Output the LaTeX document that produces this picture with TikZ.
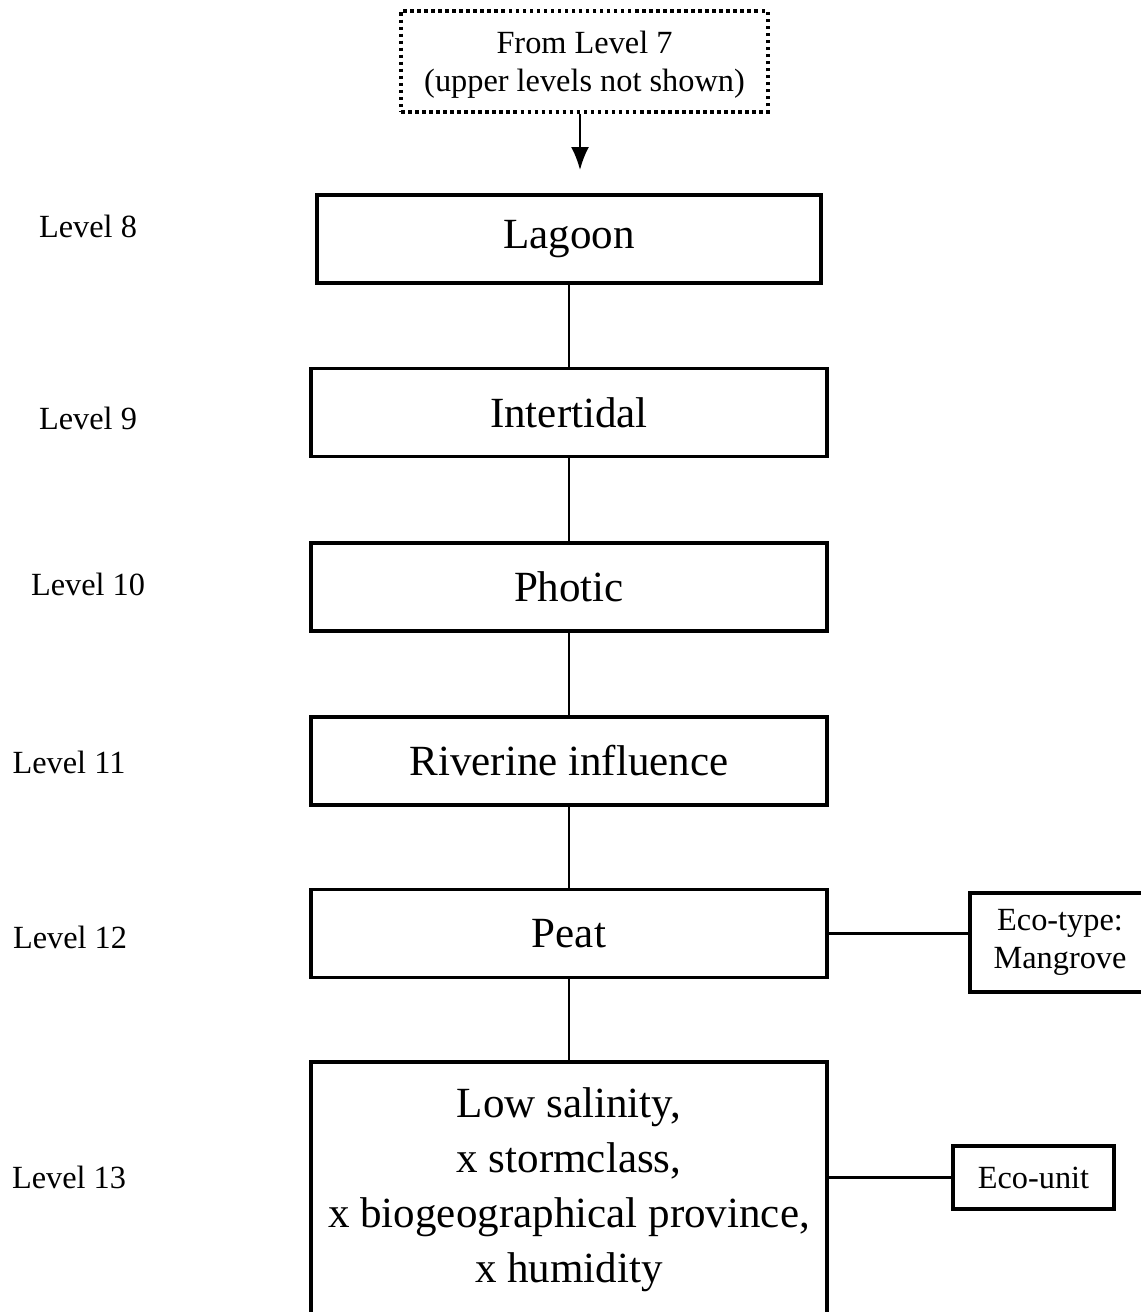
\documentclass[tikz,border=0pt]{standalone}
\usepackage{fontspec}
\setmainfont{Liberation Serif}
\usepackage{tikz}
\usetikzlibrary{positioning}
\usetikzlibrary{arrows.meta}
\tikzstyle{sheet} = [x = .02cm, y = -.02cm]
\tikzstyle{boxStyle} = [draw=black, line width=1.8pt, inner sep=0pt, align=center, font=\fontsize{24.5}{31.3}\selectfont]
\tikzstyle{smallBoxStyle} = [draw=black, line width=1.8pt, inner sep=0pt, align=center, font=\fontsize{18.4}{21.6}\selectfont]
\tikzstyle{dottedBoxStyle} = [smallBoxStyle, line width=2pt, dash pattern=on 2pt off 2pt]
\tikzstyle{levelText} = [font=\fontsize{18.4}{21.6}\selectfont, inner sep=0pt]
\tikzstyle{linkLine} = [color=black, line width=1.2pt]
\newcommand{\levelLabel}[3]{\node [levelText] (#1) at (#2) {#3};}
\newcommand{\levelBox}[3]{\node [boxStyle, minimum width=10.32cm, minimum height=1.76cm] (#1) at (#2) {#3};}
\newcommand{\levelLink}[2]{\draw [linkLine] (#1) -- (#2);}

\begin{document}
\begin{tikzpicture}[sheet]
          \useasboundingbox (0,0) rectangle (1141,1312);

          % start of the chain
          \node [dottedBoxStyle, minimum width=7.34cm, minimum height=2.02cm, text depth=0pt] (fromTop) at (584.5,61.5) {From Level 7\\(upper levels not shown)};
          \coordinate (arrowEnd) at (580,170);
          \draw [linkLine, -{Latex[length=.46cm, width=.36cm]}] (arrowEnd |- fromTop.south) -- (arrowEnd);

          % levels
          \node [boxStyle, minimum width=10.08cm, minimum height=1.76cm] (lagoon) at (569,239) {Lagoon};
          \levelBox{intertidal}{569,412.5}{Intertidal}
          \levelBox{photic}{569,587}{Photic}
          \levelBox{riverine}{569,761}{Riverine influence}
          \levelBox{peat}{569,933.5}{Peat}
          \node [boxStyle, minimum width=10.32cm, minimum height=5.12cm] (lowSalinity) at (569,1190) {Low salinity,\\x stormclass,\\x biogeographical province,\\x humidity};

          \levelLink{lagoon}{intertidal}
          \levelLink{intertidal}{photic}
          \levelLink{photic}{riverine}
          \levelLink{riverine}{peat}
          \levelLink{peat}{lowSalinity}

          % side boxes
          \node [smallBoxStyle, minimum width=3.6cm, minimum height=1.98cm] (ecoType) at (1060,942.5) {Eco-type:\\Mangrove};
          \node [smallBoxStyle, minimum width=3.22cm, minimum height=1.26cm] (ecoUnit) at (1033.5,1177.5) {Eco-unit};
          \draw [linkLine] (peat.east) -- (peat.east -| ecoType.west);
          \draw [linkLine] (ecoUnit.west) -- (ecoUnit.west -| lowSalinity.east);

          % level names
          \levelLabel{levelEight}{88,226}{Level 8}
          \levelLabel{levelNine}{88,418}{Level 9}
          \levelLabel{levelTen}{88,584}{Level 10}
          \levelLabel{levelEleven}{69,762}{Level 11}
          \levelLabel{levelTwelve}{70,937}{Level 12}
          \levelLabel{levelThirteen}{69,1177}{Level 13}
        \end{tikzpicture}
\end{document}
